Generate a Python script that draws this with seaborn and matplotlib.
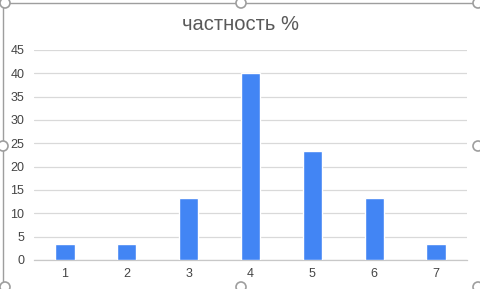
import matplotlib
matplotlib.use("Agg")
import matplotlib.pyplot as plt
import seaborn as sns
import pandas as pd
from matplotlib.patches import Circle

categories = ["1", "2", "3", "4", "5", "6", "7"]
values = [3.33, 3.33, 13.33, 40.0, 23.33, 13.33, 3.33]
yticks = [0, 5, 10, 15, 20, 25, 30, 35, 40, 45]
title = "частность %"

sns.set_theme(style="white")
plt.rcParams['font.family'] = ['Liberation Sans', 'DejaVu Sans']

df = pd.DataFrame({"cat": categories, "val": values})

W, H = 481, 289
fig = plt.figure(figsize=(W / 100, H / 100), dpi=100)
fig.patch.set_facecolor("white")
ax = fig.add_axes([34 / W, 1 - 260 / H, (467 - 34) / W, (260 - 50) / H])

sns.barplot(data=df, x="cat", y="val", color="#4285F4", width=0.31,
            saturation=1, ax=ax, zorder=3)

ax.set_xlim(-0.5, len(categories) - 0.5)
ax.set_ylim(0, 45)
ax.set_yticks(yticks)
ax.set_yticklabels([str(t) for t in yticks])
ax.set_xlabel("")
ax.set_ylabel("")
ax.grid(axis="y", color="#d9d9d9", linewidth=0.9, zorder=0)
ax.grid(axis="x", visible=False)
for s in ["top", "right", "left"]:
    ax.spines[s].set_visible(False)
ax.spines["bottom"].set_color("#c8c8c8")
ax.spines["bottom"].set_linewidth(0.9)
ax.tick_params(axis="both", length=0, labelsize=9, colors="#444444")
ax.tick_params(axis="y", pad=7)
ax.tick_params(axis="x", pad=6)

fig.text(241 / W, 1 - 24 / H, title, ha="center", va="center",
         fontsize=14.5, color="#595959")

# selection frame of the embedded chart
border = "#9e9e9e"
fig.add_artist(plt.Line2D([3 / W, 3 / W], [0, 1 - 3 / H], transform=fig.transFigure,
                          color=border, linewidth=1))
fig.add_artist(plt.Line2D([3 / W, 478 / W], [1 - 3 / H, 1 - 3 / H], transform=fig.transFigure,
                          color=border, linewidth=1))
for (hx, hy) in [(5, 3), (241, 3), (478, 3), (3, 146), (478, 146), (5, 287), (241, 287), (478, 287)]:
    fig.add_artist(Circle((hx, H - hy), 5, transform=None, facecolor="white",
                          edgecolor=border, linewidth=1.2, zorder=10))

fig.savefig("out.png", dpi=100)
